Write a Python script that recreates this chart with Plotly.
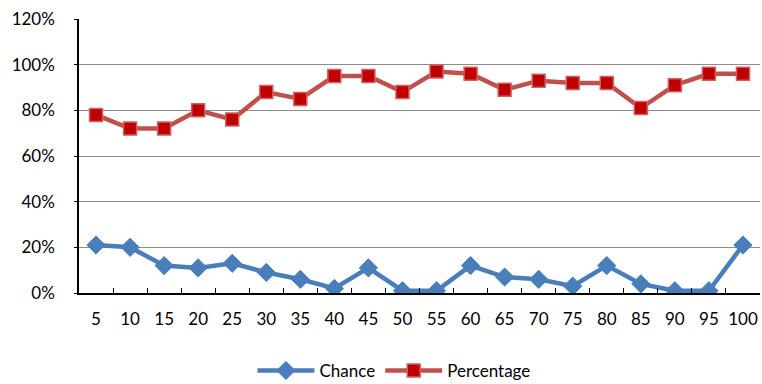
import plotly.graph_objects as go

categories = ["5", "10", "15", "20", "25", "30", "35", "40", "45", "50",
              "55", "60", "65", "70", "75", "80", "85", "90", "95", "100"]
chance = [21, 20, 12, 11, 13, 9, 6, 2, 11, 1, 1, 12, 7, 6, 3, 12, 4, 1, 1, 21]
percentage = [78, 72, 72, 80, 76, 88, 85, 95, 95, 88, 97, 96, 89, 93, 92, 92, 81, 91, 96, 96]
y_ticks = [0, 20, 40, 60, 80, 100, 120]

font_family = "Lato, 'Open Sans', sans-serif"

fig = go.Figure()
fig.add_trace(go.Scatter(
    x=categories, y=[v / 100 for v in chance], name="Chance",
    mode="lines+markers",
    line=dict(color="#4A7EBB", width=4.5),
    marker=dict(symbol="diamond", size=14, color="#4A7EBB",
                line=dict(color="#4A7EBB", width=1)),
))
fig.add_trace(go.Scatter(
    x=categories, y=[v / 100 for v in percentage], name="Percentage",
    mode="lines+markers",
    line=dict(color="#C0504D", width=4.5),
    marker=dict(symbol="square", size=13, color="#C00000",
                line=dict(color="#D06060", width=1.5)),
))

fig.update_layout(
    width=762, height=384,
    margin=dict(l=79, r=2, t=19, b=91, autoexpand=False),
    plot_bgcolor="white", paper_bgcolor="white",
    font=dict(family=font_family, size=17, color="#000000"),
    showlegend=True,
    legend=dict(orientation="h", xref="container", x=0.517, xanchor="center",
                yref="container", y=0.034, yanchor="middle",
                font=dict(size=17), itemwidth=57),
    xaxis=dict(
        type="category", range=[-0.5, 19.5], tickangle=0, automargin=False,
        showline=True, linecolor="black", linewidth=1.5,
        ticks="inside", tickson="boundaries", ticklen=5, tickcolor="black", tickwidth=1,
        ticklabelstandoff=10,
        showgrid=False, zeroline=False,
    ),
    yaxis=dict(
        range=[0, 1.2], tickvals=[v / 100 for v in y_ticks],
        ticktext=[f"{v}%" for v in y_ticks], automargin=False,
        showline=True, linecolor="black", linewidth=1.5,
        ticks="outside", ticklen=3, tickcolor="black",
        ticklabelstandoff=16,
        showgrid=True, gridcolor="#8C8C8C", gridwidth=1,
        zeroline=False,
    ),
)

fig.write_html("out.html")
